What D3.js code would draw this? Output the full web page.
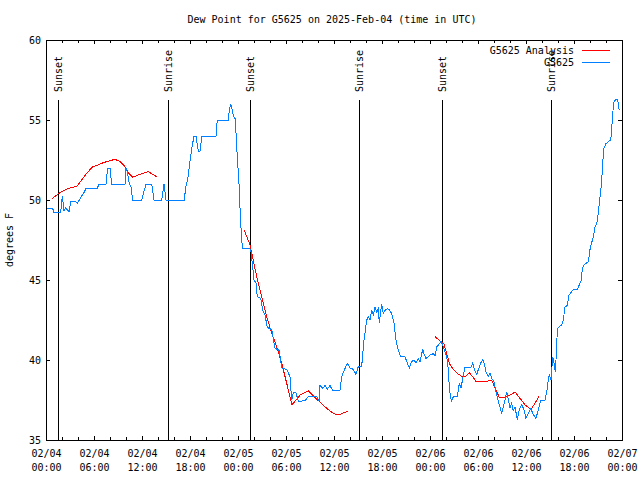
<!DOCTYPE html>
<html>
<head>
<meta charset="utf-8">
<script src="https://cdn.jsdelivr.net/npm/d3@7"></script>
<style>
  body { margin: 0; background: #fff; }
  svg { display: block; }
</style>
</head>
<body>
<svg id="chart" width="640" height="480"></svg>
<script>
// Hours after 2025-02-04 00:00 UTC, dew point in degrees F
const startUtc = Date.UTC(2025, 1, 4, 0, 0);

const observed = [
  [0.09, 49.5], [0.84, 49.5], [0.94, 49.25], [1.84, 49.25], [2.04, 50.25], [2.25, 49.3],
  [2.46, 49.5], [2.66, 49.4], [2.88, 49.25], [3.09, 49.9], [3.71, 49.9], [3.91, 49.8],
  [4.16, 50.0], [4.46, 50.25], [4.75, 50.46], [5.0, 50.73], [6.41, 50.73], [6.63, 51.0],
  [7.5, 51.0], [7.71, 52.0], [8.0, 52.0], [8.21, 51.0], [9.88, 51.0], [10.0, 52.0],
  [10.16, 51.75], [10.41, 51.0], [10.63, 50.8], [10.84, 50.0], [11.96, 50.0], [12.5, 51.0],
  [13.21, 51.0], [13.5, 50.0], [14.46, 50.0], [14.75, 51.0], [15.0, 50.0], [17.29, 50.0],
  [17.46, 50.8], [17.71, 51.25], [18.0, 52.4], [18.21, 53.2], [18.5, 54.0], [18.75, 54.0],
  [19.04, 53.06], [19.25, 53.06], [19.5, 54.0], [21.25, 54.0], [21.41, 55.0], [22.79, 55.0],
  [22.91, 55.6], [23.09, 56.0], [23.25, 55.7], [23.41, 55.27], [23.66, 55.06], [23.91, 52.7],
  [24.13, 51.0], [24.25, 49.5], [24.38, 48.23], [24.54, 47.0], [25.41, 47.0], [25.59, 46.9],
  [25.79, 46.04], [26.0, 45.0], [26.25, 44.8], [26.41, 43.96], [26.84, 43.85], [27.09, 43.1],
  [27.38, 42.8], [27.66, 42.04], [28.21, 41.9], [28.63, 40.73], [29.16, 40.6], [29.46, 39.5],
  [30.09, 39.4], [30.5, 38.96], [30.71, 37.5], [30.91, 37.96], [31.25, 37.96], [31.54, 37.4],
  [32.38, 37.46], [32.79, 37.7], [33.84, 37.7], [34.13, 37.46], [34.25, 38.4], [34.59, 38.23],
  [34.88, 38.4], [35.16, 38.17], [35.5, 38.4], [35.84, 38.1], [36.75, 38.1], [36.96, 38.96],
  [37.25, 39.33], [37.66, 39.79], [38.0, 39.5], [38.41, 39.42], [38.75, 39.1], [39.04, 39.6],
  [39.46, 39.6], [39.75, 41.25], [40.09, 42.5], [40.29, 42.7], [40.5, 42.5], [40.71, 43.1],
  [40.91, 42.8], [41.13, 43.3], [41.34, 43.0], [41.54, 43.2], [41.66, 42.3], [41.96, 43.5],
  [42.16, 42.9], [42.38, 43.1], [42.66, 43.2], [42.91, 43.15], [43.21, 42.9], [43.5, 42.3],
  [43.75, 41.25], [44.04, 40.6], [44.34, 40.2], [44.88, 40.2], [45.09, 39.9], [45.41, 39.5],
  [45.71, 39.9], [46.0, 40.0], [46.25, 39.8], [46.54, 40.1], [46.75, 39.9], [47.09, 40.67],
  [47.25, 40.4], [47.5, 40.1], [48.0, 40.3], [48.41, 40.4], [48.63, 40.25], [48.84, 40.83],
  [49.16, 41.0], [49.38, 41.15], [49.59, 40.94], [49.88, 40.5], [50.09, 40.2], [50.29, 39.4],
  [50.41, 38.33], [50.59, 37.6], [50.71, 37.46], [50.91, 37.7], [51.41, 37.7], [51.66, 38.54],
  [51.88, 38.23], [52.09, 38.85], [52.38, 39.54], [53.09, 39.54], [53.34, 39.8], [53.54, 39.4],
  [53.84, 39.1], [54.04, 39.4], [54.34, 39.8], [54.59, 40.04], [54.75, 39.83], [55.0, 39.27],
  [55.29, 38.96], [55.5, 39.17], [55.71, 38.85], [56.0, 38.65], [56.25, 38.0], [56.54, 37.4],
  [56.75, 37.04], [56.96, 36.67], [57.16, 37.04], [57.38, 37.5], [57.59, 38.0], [57.79, 37.5],
  [58.0, 36.98], [58.21, 37.3], [58.41, 36.83], [58.63, 37.08], [58.91, 36.25], [59.16, 36.9],
  [59.46, 37.2], [59.75, 36.9], [60.0, 36.35], [60.29, 36.67], [60.59, 36.98], [60.91, 36.6],
  [61.25, 36.35], [61.54, 36.9], [61.84, 37.5], [62.38, 37.5], [62.59, 38.0], [62.79, 38.75],
  [62.91, 39.06], [63.13, 38.75], [63.34, 40.2], [63.54, 39.7], [63.66, 39.27], [63.75, 40.0],
  [63.84, 41.15], [63.96, 41.98], [64.16, 42.1], [64.46, 42.2], [64.66, 42.5], [64.88, 43.33],
  [65.16, 43.4], [65.38, 44.06], [65.71, 44.27], [65.91, 44.4], [66.41, 44.4], [66.66, 44.7],
  [66.88, 44.96], [67.04, 45.7], [67.25, 45.94], [67.5, 46.04], [67.79, 46.15], [68.0, 46.9],
  [68.21, 47.33], [68.41, 47.7], [68.63, 48.3], [68.84, 48.5], [69.04, 49.17], [69.25, 50.2],
  [69.46, 51.15], [69.59, 52.4], [69.75, 53.23], [69.96, 53.5], [70.29, 53.65], [70.59, 53.75],
  [70.71, 54.42], [70.84, 55.42], [71.0, 56.15], [71.25, 56.3], [71.46, 56.25], [71.66, 55.6]
];

const analysisDay1 = [
  [0.79, 50.1], [1.75, 50.46], [2.59, 50.67], [3.21, 50.8], [3.84, 50.83], [4.46, 51.25],
  [5.09, 51.67], [5.84, 52.08], [6.54, 52.2], [7.16, 52.33], [8.0, 52.46], [8.63, 52.54],
  [9.25, 52.4], [9.88, 52.08], [10.29, 51.7], [10.84, 51.42], [11.54, 51.56], [12.16, 51.67],
  [12.79, 51.77], [13.34, 51.6], [13.84, 51.45]
];
const analysisDay2 = [
  [24.79, 48.1], [25.5, 47.2], [26.34, 45.2], [26.96, 43.96], [27.59, 42.7], [28.21, 41.67],
  [28.84, 40.83], [29.46, 39.8], [30.09, 38.54], [30.75, 37.2], [31.75, 37.8], [32.79, 38.08],
  [34.04, 37.46], [35.09, 36.98], [35.91, 36.67], [36.54, 36.56], [37.71, 36.8]
];
const analysisDay3 = [
  [48.63, 41.46], [49.34, 41.15], [49.75, 41.0], [50.09, 40.4], [50.41, 39.8], [50.91, 39.4],
  [51.41, 39.17], [51.91, 39.0], [52.5, 39.0], [52.91, 39.2], [53.34, 38.96], [53.75, 38.65],
  [54.66, 38.63], [55.41, 38.7], [55.71, 38.75], [56.13, 38.23], [56.66, 37.67], [57.38, 37.67],
  [58.0, 37.8], [58.63, 38.0], [59.25, 37.6], [59.88, 37.2], [60.63, 36.92], [61.25, 37.4],
  [61.66, 37.77]
];

const sunEvents = [
  ["Sunset", 1.54], ["Sunrise", 15.29], ["Sunset", 25.54],
  ["Sunrise", 39.16], ["Sunset", 49.54], ["Sunrise", 63.16]
];

const yTicks = [35, 40, 45, 50, 55, 60];
const legendLabels = ["G5625 Analysis", "G5625"];
const titleText = "Dew Point for G5625 on 2025-Feb-04 (time in UTC)";
const yLabel = "degrees F";

const toDate = h => new Date(startUtc + h * 3600e3);
const font = "DejaVu Sans Mono, Liberation Mono, monospace";
const colors = ["#ff0000", "#0080ff"];

const svg = d3.select("#chart");
const plotLeft = 46, plotRight = 622, plotTop = 40, plotBottom = 440;

const x = d3.scaleUtc()
  .domain([toDate(0), toDate(72)])
  .range([plotLeft, plotRight]);
const y = d3.scaleLinear()
  .domain([35, 60])
  .range([plotBottom, plotTop]);

// Minor ticks every 2 hours, major every 6
const minorAxis = d3.axisBottom(x).ticks(d3.utcHour.every(2)).tickSize(-3).tickSizeOuter(0).tickFormat("");
const minorTop = d3.axisTop(x).ticks(d3.utcHour.every(2)).tickSize(-3).tickSizeOuter(0).tickFormat("");
svg.append("g").attr("transform", `translate(0,${plotBottom})`).call(minorAxis);
svg.append("g").attr("transform", `translate(0,${plotTop})`).call(minorTop);

const xAxis = svg.append("g")
  .attr("transform", `translate(0,${plotBottom})`)
  .call(d3.axisBottom(x).ticks(d3.utcHour.every(6)).tickSize(-4).tickSizeOuter(0));
svg.append("g")
  .attr("transform", `translate(0,${plotTop})`)
  .call(d3.axisTop(x).ticks(d3.utcHour.every(6)).tickSize(-4).tickSizeOuter(0).tickFormat(""));

// two-line date labels
const fmtDay = d3.utcFormat("%m/%d"), fmtTime = d3.utcFormat("%H:%M");
xAxis.selectAll(".tick text").each(function(d) {
  const t = d3.select(this).text(null).attr("dy", null).attr("y", null);
  t.append("tspan").attr("x", 0).attr("y", 17).text(fmtDay(d));
  t.append("tspan").attr("x", 0).attr("y", 31).text(fmtTime(d));
});

svg.append("g")
  .attr("transform", `translate(${plotLeft},0)`)
  .call(d3.axisLeft(y).tickValues(yTicks).tickSize(-4).tickPadding(5).tickSizeOuter(0));
svg.append("g")
  .attr("transform", `translate(${plotRight},0)`)
  .call(d3.axisRight(y).tickValues(yTicks).tickSize(-4).tickSizeOuter(0).tickFormat(""));

svg.selectAll(".tick line, .domain")
  .attr("stroke", "#000")
  .attr("shape-rendering", "crispEdges");
svg.selectAll("g").attr("font-family", font).attr("font-size", 10);
svg.selectAll(".tick text").attr("fill", "#000");

// sunrise / sunset markers
const sun = svg.append("g");
sun.selectAll("line")
  .data(sunEvents)
  .join("line")
  .attr("x1", d => Math.round(x(toDate(d[1]))) + 0.5)
  .attr("x2", d => Math.round(x(toDate(d[1]))) + 0.5)
  .attr("y1", 100)
  .attr("y2", plotBottom)
  .attr("stroke", "#000")
  .attr("shape-rendering", "crispEdges");
sun.selectAll("text")
  .data(sunEvents)
  .join("text")
  .attr("transform", d => `translate(${x(toDate(d[1])) + 4},92) rotate(-90)`)
  .attr("font-family", font)
  .attr("font-size", 10)
  .text(d => d[0]);

const line = d3.line()
  .x(d => x(toDate(d[0])))
  .y(d => y(d[1]));

svg.append("g")
  .selectAll("path")
  .data([analysisDay1, analysisDay2, analysisDay3])
  .join("path")
  .attr("d", line)
  .attr("fill", "none")
  .attr("stroke", colors[0])
  .attr("stroke-width", 1)
  .attr("shape-rendering", "crispEdges");

svg.append("path")
  .datum(observed)
  .attr("d", line)
  .attr("fill", "none")
  .attr("stroke", colors[1])
  .attr("stroke-width", 1)
  .attr("shape-rendering", "crispEdges");

// legend
const legend = svg.append("g");
legendLabels.forEach((label, i) => {
  const ly = 50 + i * 12;
  legend.append("text")
    .attr("x", 574).attr("y", ly + 4)
    .attr("text-anchor", "end")
    .attr("font-family", font).attr("font-size", 10)
    .text(label);
  legend.append("line")
    .attr("x1", 582).attr("x2", 610)
    .attr("y1", ly + 0.5).attr("y2", ly + 0.5)
    .attr("stroke", colors[i])
    .attr("shape-rendering", "crispEdges");
});

svg.append("text")
  .attr("x", 332).attr("y", 23)
  .attr("text-anchor", "middle")
  .attr("font-family", font).attr("font-size", 10)
  .text(titleText);

svg.append("text")
  .attr("transform", `translate(13,${(plotTop + plotBottom) / 2}) rotate(-90)`)
  .attr("text-anchor", "middle")
  .attr("font-family", font).attr("font-size", 10)
  .text(yLabel);
</script>
</body>
</html>
